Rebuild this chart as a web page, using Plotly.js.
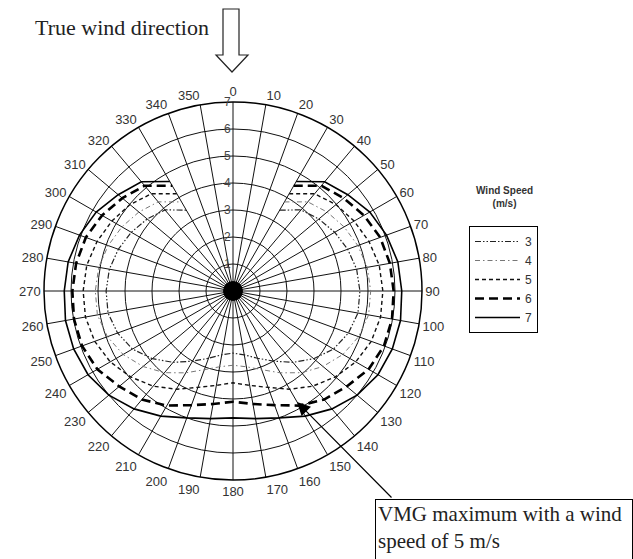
<!DOCTYPE html>
<html>
<head>
<meta charset="utf-8">
<script src="https://cdn.plot.ly/plotly-3.0.1.min.js"></script>
<style>html,body{margin:0;padding:0;background:#fff;}#chart{width:633px;height:559px;}</style>
</head>
<body>
<div id="chart"></div>
<script>
// True wind angles (deg) on the starboard side; port side is the mirror image
var angles = [30, 40, 50, 60, 70, 80, 90, 100, 110, 120, 130, 140, 150, 160, 170, 180];
var windSpeeds = ['3', '4', '5', '6', '7'];
// Boat speed (m/s)
var speed3 = [3.46, 3.92, 4.15, 4.35, 4.52, 4.65, 4.7, 4.7, 4.55, 4.3, 3.9, 3.45, 3.0, 2.65, 2.4, 2.3];
var speed4 = [3.81, 4.31, 4.55, 4.75, 4.92, 5.05, 5.1, 5.1, 4.95, 4.7, 4.35, 3.95, 3.5, 3.1, 2.85, 2.75];
var speed5 = [4.16, 4.7, 4.98, 5.18, 5.36, 5.5, 5.55, 5.55, 5.45, 5.25, 4.95, 4.6, 4.2, 3.8, 3.55, 3.4];
var speed6 = [4.5, 5.09, 5.35, 5.6, 5.8, 5.9, 5.95, 5.98, 5.95, 5.8, 5.5, 5.25, 4.9, 4.5, 4.25, 4.1];
var speed7 = [4.68, 5.28, 5.55, 5.85, 6.05, 6.2, 6.25, 6.3, 6.28, 6.2, 6.0, 5.7, 5.35, 5.0, 4.8, 4.7];
var radialTicks = [1, 2, 3, 4, 5, 6, 7];
var angleTicks = [0, 10, 20, 30, 40, 50, 60, 70, 80, 90, 100, 110, 120, 130, 140, 150, 160, 170,
                  180, 190, 200, 210, 220, 230, 240, 250, 260, 270, 280, 290, 300, 310, 320, 330, 340, 350];
var angleLabels = angleTicks.map(String);
var centerR = [0];
var centerTheta = [0];

var series = [speed3, speed4, speed5, speed6, speed7];
var styles = [
  {color: '#222', width: 1.2, dash: '6px,2px,1.5px,2px,1.5px,2px'},
  {color: '#777', width: 1, dash: '5px,3px,1.5px,3px'},
  {color: '#111', width: 1.4, dash: '4px,3px'},
  {color: '#000', width: 2.6, dash: '9px,5px'},
  {color: '#000', width: 1.6, dash: 'solid'}
];

var traces = [];
series.forEach(function (vals, i) {
  var theta = angles.slice();
  var r = vals.slice();
  for (var k = angles.length - 2; k >= 0; k--) {
    theta.push(360 - angles[k]);
    r.push(vals[k]);
  }
  traces.push({
    type: 'scatterpolar', mode: 'lines', r: r, theta: theta,
    name: windSpeeds[i], line: styles[i], hoverinfo: 'skip'
  });
});
traces.push({
  type: 'scatterpolar', mode: 'markers', r: centerR, theta: centerTheta,
  marker: {color: '#000', size: 20}, showlegend: false, hoverinfo: 'skip'
});

var W = 633, H = 559;
function px(x) { return x / W; }
function py(y) { return 1 - y / H; }

var arrowPath = 'M' + px(223) + ',' + py(9) + ' L' + px(239) + ',' + py(9) + ' L' + px(239) + ',' + py(55) +
  ' L' + px(248) + ',' + py(55) + ' L' + px(232) + ',' + py(72) + ' L' + px(216) + ',' + py(55) +
  ' L' + px(223) + ',' + py(55) + ' Z';

var layout = {
  width: W, height: H,
  margin: {l: 0, r: 0, t: 0, b: 0},
  paper_bgcolor: '#fff',
  showlegend: true,
  polar: {
    domain: {x: [px(44), px(422)], y: [py(480), py(102)]},
    bgcolor: '#fff',
    angularaxis: {
      rotation: 90, direction: 'clockwise',
      tickmode: 'array', tickvals: angleTicks, ticktext: angleLabels,
      showline: true, linecolor: '#000', linewidth: 1.5,
      gridcolor: '#111', gridwidth: 1, ticks: '',
      tickfont: {family: 'Arial, Liberation Sans, sans-serif', size: 13, color: '#333'}
    },
    radialaxis: {
      range: [0, 7], tickvals: radialTicks, angle: 90, side: 'counterclockwise', tickangle: 90,
      ticksuffix: '\u2003', showline: false, ticks: '', gridcolor: '#111', gridwidth: 1,
      tickfont: {family: 'Arial, Liberation Sans, sans-serif', size: 12, color: '#444'}
    }
  },
  legend: {
    x: px(469), y: py(226), xanchor: 'left', yanchor: 'top',
    bordercolor: '#000', borderwidth: 1, bgcolor: '#fff',
    itemwidth: 45, traceorder: 'normal',
    font: {family: 'Arial, Liberation Sans, sans-serif', size: 12, color: '#333'}
  },
  shapes: [
    {type: 'path', xref: 'paper', yref: 'paper', path: arrowPath,
     line: {color: '#222', width: 1.2}, fillcolor: '#fff'}
  ],
  annotations: [
    {xref: 'paper', yref: 'paper', x: px(33), y: py(28), xanchor: 'left', yanchor: 'middle',
     text: 'True wind direction', showarrow: false,
     font: {family: 'Liberation Serif, Times New Roman, serif', size: 22, color: '#222'}},
    {xref: 'paper', yref: 'paper', x: px(505), y: py(197), xanchor: 'center', yanchor: 'middle',
     text: '<b>Wind Speed</b><br><b>(m/s)</b>', showarrow: false,
     font: {family: 'Arial, Liberation Sans, sans-serif', size: 10, color: '#333'}},
    {xref: 'paper', yref: 'paper', x: px(297), y: py(402), text: '', showarrow: true,
     ax: 96, ay: 97, arrowhead: 2, arrowsize: 2.2, arrowwidth: 1.2, arrowcolor: '#000'},
    {xref: 'paper', yref: 'paper', x: px(375), y: py(499), xanchor: 'left', yanchor: 'top',
     text: 'VMG maximum with a wind<br>speed of 5 m/s', showarrow: false, align: 'left',
     valign: 'top', width: 252, height: 90, borderpad: 2,
     bordercolor: '#000', borderwidth: 1, bgcolor: '#fff',
     font: {family: 'Liberation Serif, Times New Roman, serif', size: 21, color: '#222'}}
  ]
};

Plotly.newPlot('chart', traces, layout, {displayModeBar: false, staticPlot: true});
</script>
</body>
</html>
